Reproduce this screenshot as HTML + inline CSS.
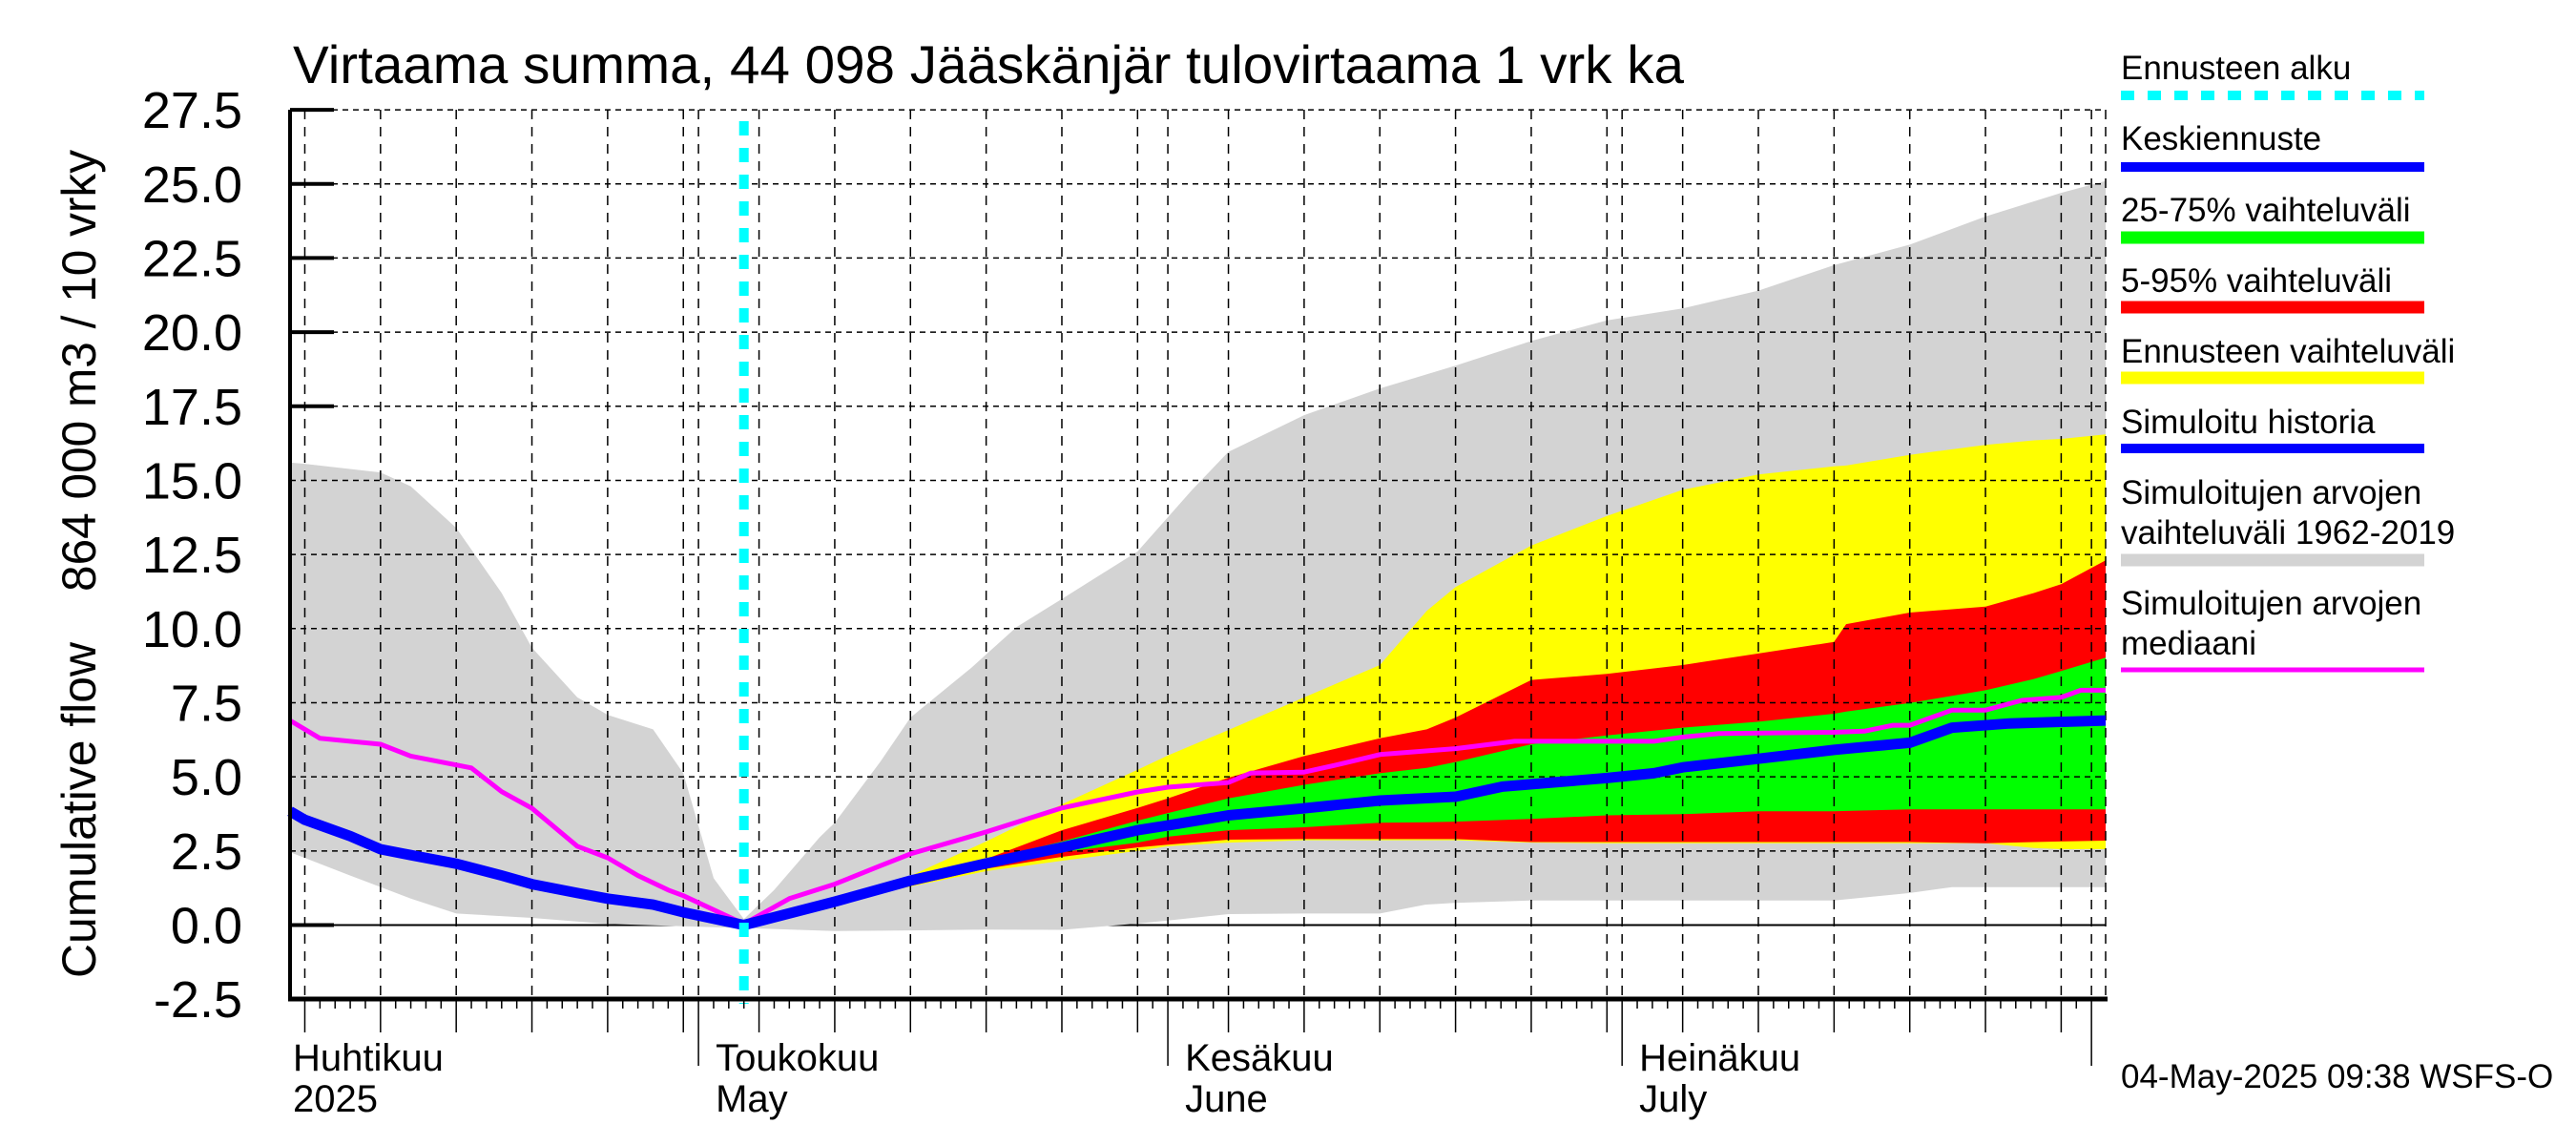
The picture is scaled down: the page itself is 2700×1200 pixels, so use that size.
<!DOCTYPE html>
<html><head><meta charset="utf-8"><style>
html,body{margin:0;padding:0;background:#fff;}
svg{display:block;font-family:"Liberation Sans",Arial,sans-serif;}
</style></head><body>
<svg id="chart" width="2700" height="1200" viewBox="0 0 2700 1200" xmlns="http://www.w3.org/2000/svg">
<rect x="0" y="0" width="2700" height="1200" fill="#fff"/>
<g id="under"></g>
<g id="fills"></g>
<g id="grid"></g>
<g id="lines"></g>
<g id="axes"></g>
<text x="307" y="87" font-size="56" textLength="1458" lengthAdjust="spacingAndGlyphs">Virtaama summa, 44 098 Jääskänjär tulovirtaama 1 vrk ka</text>
<text transform="translate(100,1025) rotate(-90)" font-size="50" textLength="352" lengthAdjust="spacingAndGlyphs">Cumulative flow</text>
<text transform="translate(100,620) rotate(-90)" font-size="50" textLength="463" lengthAdjust="spacingAndGlyphs">864 000 m3 / 10 vrky</text>
<text x="2223" y="1140" font-size="35">04-May-2025 09:38 WSFS-O</text>
<g id="legend"></g>
</svg>
<script>
// days counted from 1 April 2025 (day 0)
const histRangeUpDays = [3,4,9,11,14,17,19,22,24,27,29,31,33,35,38,39,42,44,48,51,54,59,62.6,65,70,75,80,85,90,95,100,105,110,115,120,123];
const histRangeUp = [15.6,15.56,15.27,14.8,13.4,11.2,9.36,7.68,7.09,6.6,5.12,1.58,0.2,1.18,2.96,3.45,5.5,7.0,8.67,10.05,11.0,12.6,14.68,15.96,17.2,18.1,18.87,19.7,20.4,20.8,21.4,22.26,22.95,23.9,24.7,25.1];
const histRangeLowDays = [3,7,11,14,19,24,29,33,39,44,49,54,59,61,65,70,75,78,80,85,90,95,100,105,110,112.8,123];
const histRangeLow = [2.46,1.67,0.89,0.39,0.24,0.04,-0.04,-0.1,-0.2,-0.18,-0.15,-0.16,0.05,0.15,0.37,0.39,0.39,0.69,0.75,0.83,0.83,0.83,0.83,0.83,1.08,1.28,1.28];
const fcDays = [33,39,44,49,54,59,61,65,70,75,78.1,80,85,90,95,100,105,105.8,110,115,118.2,120,123];
const yellowUp = [0,0.9,1.66,2.82,4.07,5.24,5.72,6.58,7.68,8.77,10.6,11.4,12.8,13.8,14.68,15.2,15.47,15.5,15.86,16.2,16.35,16.4,16.55];
const yellowLow = [0,0.75,1.3,1.82,2.17,2.5,2.66,2.78,2.86,2.86,2.86,2.86,2.78,2.76,2.76,2.76,2.76,2.76,2.76,2.76,2.6,2.56,2.56];
const redUp = [0,0.78,1.4,2.23,3.2,3.95,4.27,4.97,5.7,6.3,6.6,7.0,8.27,8.47,8.77,9.16,9.55,10.15,10.54,10.74,11.2,11.5,12.3];
const redLow = [0,0.77,1.32,1.9,2.3,2.62,2.71,2.88,2.9,2.9,2.9,2.9,2.8,2.8,2.8,2.8,2.8,2.8,2.8,2.76,2.8,2.82,2.85];
const greenUp = [0,0.79,1.48,2.2,2.82,3.52,3.78,4.27,4.73,5.12,5.3,5.5,6.1,6.4,6.66,6.86,7.13,7.2,7.49,7.92,8.3,8.57,9.02];
const greenLow = [0,0.78,1.44,2.0,2.46,2.78,2.98,3.2,3.3,3.45,3.47,3.49,3.58,3.7,3.74,3.84,3.84,3.85,3.9,3.9,3.9,3.9,3.9];
const meanDays = [3,4,7,9,11,14,17,19,22,24,27,29,33,39,44,49,54,59,61,65,70,75,80,83.1,90,93.1,95,100,105,110,112.8,116.6,123];
const meanVals = [3.84,3.55,3.0,2.56,2.36,2.07,1.67,1.38,1.08,0.89,0.69,0.43,0,0.79,1.5,2.08,2.62,3.2,3.36,3.7,3.94,4.2,4.33,4.67,4.96,5.12,5.32,5.61,5.91,6.15,6.66,6.8,6.9];
const medDays = [3,5,9,11,14,15,17,19,22,24,26,28,29,33,36,39,42,44,49,54,59,61,65,66.5,70,72.3,75,80,83.9,93.1,95,97.4,105,107,108.9,110,112.8,115,117.4,120,121.3,123];
const medVals = [6.9,6.3,6.1,5.7,5.4,5.3,4.5,3.94,2.66,2.27,1.67,1.18,0.99,0.04,0.89,1.38,2.0,2.4,3.14,3.95,4.49,4.65,4.81,5.13,5.16,5.42,5.75,5.95,6.2,6.2,6.34,6.46,6.5,6.54,6.74,6.74,7.25,7.25,7.58,7.68,7.92,7.92];
const yTicks = [-2.5,0,2.5,5,7.5,10,12.5,15,17.5,20,22.5,25,27.5];
const monthStarts = [0,30,61,91,122];
const monthLabels = ["Huhtikuu","Toukokuu","Kesäkuu","Heinäkuu"];
const yearLabels = ["2025","May","June","July"];
const forecastStartDay = 33;

const NS = "http://www.w3.org/2000/svg";
const X0 = 256, PXD = 15.87, Y0 = 969.5, PXV = 31.07;
const LEFT = 304, RIGHT = 2207, TOP = 115, BOTTOM = 1047;
const DMIN = (LEFT - X0) / PXD, DMAX = (RIGHT - X0) / PXD;
function xs(d){ return X0 + d * PXD; }
function ys(v){ return Y0 - v * PXV; }
function mk(tag, attrs, parent){
  const e = document.createElementNS(NS, tag);
  for (const k in attrs) e.setAttribute(k, attrs[k]);
  parent.appendChild(e);
  return e;
}
function clampD(d){ return Math.max(DMIN, Math.min(DMAX, d)); }
function pts(days, vals){ return days.map((d,i)=>xs(clampD(d)).toFixed(1)+","+ys(vals[i]).toFixed(1)); }
function band(daysU, up, daysL, low, color, name){
  const p = pts(daysU, up).concat(pts(daysL, low).reverse());
  const el = mk("polygon", {points: p.join(" "), fill: color}, document.getElementById("fills"));
  
  
}
const under = document.getElementById("under");
const grid = document.getElementById("grid");
const lines = document.getElementById("lines");
const axes = document.getElementById("axes");

// thick y ticks (under fills) and zero line
yTicks.forEach(v=>{
  if (v <= -2.5) return;
  const t = mk("line", {x1:LEFT, x2:LEFT+46, y1:ys(v), y2:ys(v), stroke:"#000", "stroke-width":4}, under);
  
  
});
const zl = mk("line", {x1:LEFT, x2:RIGHT, y1:ys(0), y2:ys(0), stroke:"#000", "stroke-width":2}, under);



band(histRangeUpDays, histRangeUp, histRangeLowDays, histRangeLow, "#d3d3d3", "historical-range-band");
band(fcDays, yellowUp, fcDays, yellowLow, "#ffff00", "forecast-range-band");
band(fcDays, redUp, fcDays, redLow, "#ff0000", "band-5-95");
band(fcDays, greenUp, fcDays, greenLow, "#00ff00", "band-25-75");

// grid
yTicks.forEach(v=>{
  if (v <= 0) return;
  const g = mk("line", {x1:LEFT, x2:RIGHT, y1:ys(v), y2:ys(v), stroke:"#000", "stroke-width":1.5, "stroke-dasharray":"6,5"}, grid);
  
  
});
const gridDays = [];
monthStarts.forEach((m, i)=>{
  gridDays.push(m);
  if (i < monthStarts.length - 1) [4,9,14,19,24,29].forEach(o=>{ if (m + o < monthStarts[i+1]) gridDays.push(m + o); });
});
gridDays.forEach(d=>{
  if (d < DMIN || d > DMAX) return;
  const g = mk("line", {x1:xs(d), x2:xs(d), y1:TOP, y2:BOTTOM, stroke:"#000", "stroke-width":1.5, "stroke-dasharray":"10,8"}, grid);
  
  
});
const rg = mk("line", {x1:RIGHT, x2:RIGHT, y1:TOP, y2:BOTTOM, stroke:"#000", "stroke-width":1.5, "stroke-dasharray":"10,8"}, grid);



// series lines
const med = mk("polyline", {points: pts(medDays, medVals).join(" "), fill:"none", stroke:"#ff00ff", "stroke-width":5, "stroke-linejoin":"round"}, lines);


const mean = mk("polyline", {points: pts(meanDays, meanVals).join(" "), fill:"none", stroke:"#0000ff", "stroke-width":11, "stroke-linejoin":"round"}, lines);


const fs = mk("line", {x1:xs(forecastStartDay), x2:xs(forecastStartDay), y1:127, y2:1052, stroke:"#00ffff", "stroke-width":10, "stroke-dasharray":"15,13"}, lines);



// axes
const la = mk("line", {x1:LEFT, x2:LEFT, y1:TOP, y2:BOTTOM+2, stroke:"#000", "stroke-width":4}, axes);


const ba = mk("line", {x1:LEFT-2, x2:RIGHT+2, y1:BOTTOM, y2:BOTTOM, stroke:"#000", "stroke-width":5}, axes);


yTicks.forEach(v=>{
  const t = mk("text", {x:254, y:ys(v)+19, "font-size":54, "text-anchor":"end"}, axes);
  
  
  t.textContent = v.toFixed(1);
});
for (let d = Math.ceil(DMIN); d <= DMAX; d++){
  let len = 10;
  if (monthStarts.includes(d)) len = 70;
  else if (gridDays.includes(d)) len = 35;
  const t = mk("line", {x1:xs(d), x2:xs(d), y1:BOTTOM, y2:BOTTOM+len, stroke:"#000", "stroke-width":1.5}, axes);
  
  
}
monthLabels.forEach((m, i)=>{
  const xx = Math.max(xs(monthStarts[i]) + 18, 307);
  const t1 = mk("text", {x:xx, y:1122, "font-size":40}, axes);
  
  
  t1.textContent = m;
  const t2 = mk("text", {x:xx, y:1165, "font-size":40}, axes);
  
  
  t2.textContent = yearLabels[i];
});

// legend
const legendNames = ["Ennusteen alku","Keskiennuste","25-75% vaihteluväli","5-95% vaihteluväli","Ennusteen vaihteluväli","Simuloitu historia","Simuloitujen arvojen|vaihteluväli 1962-2019","Simuloitujen arvojen|mediaani"];
const legendColors = ["#00ffff","#0000ff","#00ff00","#ff0000","#ffff00","#0000ff","#d3d3d3","#ff00ff"];
const legendTextY = [83,157,232,306,380,454,528,644];
const legendLineY = [100,175,249,322,396,470,587,702];
const legendWidths = [10,10,13,13,13,10,13,5];
const lg = document.getElementById("legend");
legendNames.forEach((n, i)=>{
  n.split("|").forEach((part, j)=>{
    const t = mk("text", {x:2223, y:legendTextY[i] + j*42, "font-size":35}, lg);
    
    
    t.textContent = part;
  });
  const attrs = {x1:2223, x2:2541, y1:legendLineY[i], y2:legendLineY[i], stroke:legendColors[i], "stroke-width":legendWidths[i]};
  if (i === 0) attrs["stroke-dasharray"] = "14,14";
  const l = mk("line", attrs, lg);
  
  
});
</script>
</body></html>
